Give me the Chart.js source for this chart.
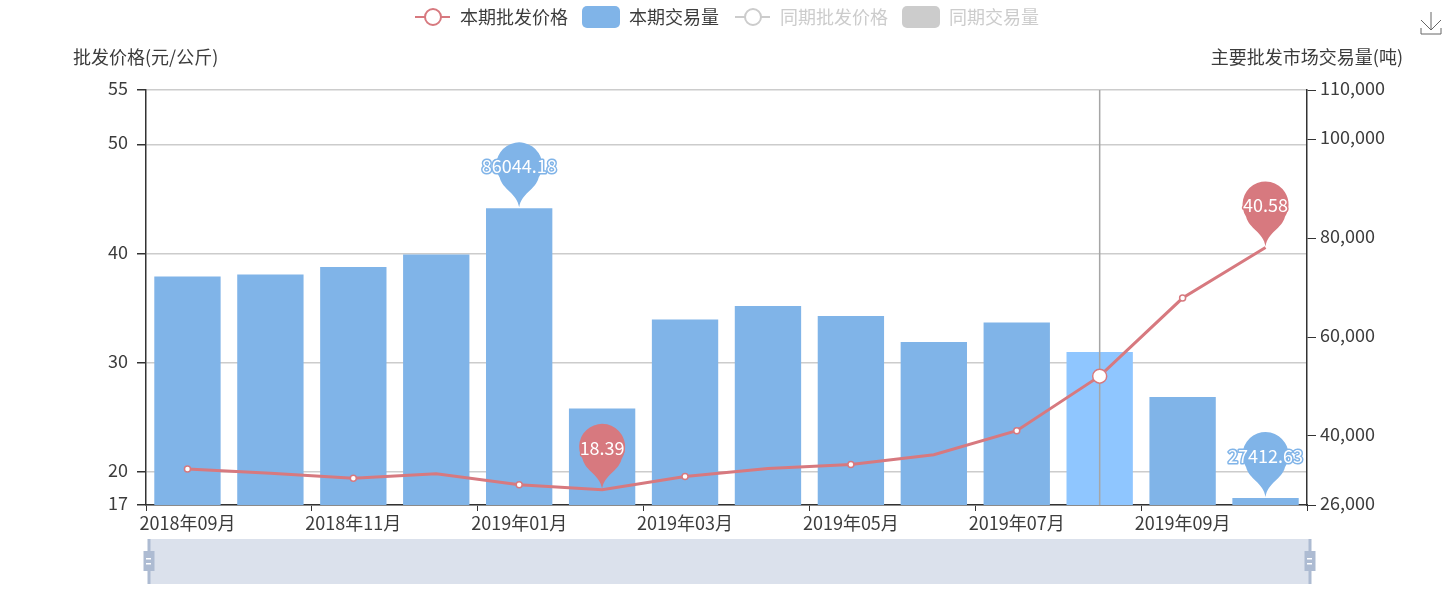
<!DOCTYPE html>
<html>
<head>
<meta charset="utf-8">
<style>
	html, body { margin: 0; padding: 0; background: #fff; }
	#box { width: 1452px; height: 594px; }
</style>
<script src="https://cdn.jsdelivr.net/npm/chart.js@4/dist/chart.umd.min.js"></script>
</head>
<body>
<div id="box"><canvas id="priceChart" width="1452" height="594"></canvas></div>
<script>
const months = ['2018年09月', '2018年10月', '2018年11月', '2018年12月', '2019年01月', '2019年02月', '2019年03月',
	'2019年04月', '2019年05月', '2019年06月', '2019年07月', '2019年08月', '2019年09月', '2019年10月'];
const priceValues = [20.3, 19.9, 19.45, 19.85, 18.85, 18.39, 19.6, 20.35, 20.7, 21.6, 23.8, 28.8, 35.95, 40.58];
const volumeValues = [72250, 72660, 74180, 76700, 86044.18, 45530, 63550, 66280, 64260, 59000, 62940, 56970, 47860, 27412.63];
const priceTicks = [17, 20, 30, 40, 50, 55];
const volumeTicks = [26000, 40000, 60000, 80000, 100000, 110000];
const seriesNames = ['本期批发价格', '本期交易量', '同期批发价格', '同期交易量'];
const leftTitle = '批发价格(元/公斤)';
const rightTitle = '主要批发市场交易量(吨)';
const activeIndex = 11; // the hovered month in the picture

const RED = '#d7797f';
const BLUE = '#80b4e8';
const BLUE_ACTIVE = '#8fc6ff';
const GREY = '#ccc';
const TEXT = '#3c3c3c';
const SLIDER = '#adbbd2';
const FONT = '"Noto Sans CJK SC", "Noto Sans", sans-serif';

Chart.defaults.font.family = FONT;
Chart.defaults.font.size = 18;
Chart.defaults.color = TEXT;

// legend symbols
function lineIcon(color) {
	const c = document.createElement('canvas');
	c.width = 38; c.height = 22;
	const g = c.getContext('2d');
	g.strokeStyle = color;
	g.lineWidth = 2;
	g.beginPath(); g.moveTo(2, 11); g.lineTo(37, 11); g.stroke();
	g.fillStyle = '#fff';
	g.beginPath(); g.arc(20, 11, 8, 0, Math.PI * 2); g.fill(); g.stroke();
	return c;
}
function boxIcon(color) {
	const c = document.createElement('canvas');
	c.width = 38; c.height = 22;
	const g = c.getContext('2d');
	g.fillStyle = color;
	g.beginPath(); g.roundRect(0, 0, 38, 22, 5); g.fill();
	return c;
}

function drawPin(ctx, x, pointY, color, text) {
	const r = 23, tipY = pointY - 1, cy = tipY - 42;
	ctx.save();
	ctx.fillStyle = color;
	ctx.beginPath();
	ctx.arc(x, cy, r, Math.PI * 0.82, Math.PI * 0.18);
	ctx.bezierCurveTo(x + r * 0.72, cy + r * 1.05, x + 2, tipY - 14, x, tipY);
	ctx.bezierCurveTo(x - 2, tipY - 14, x - r * 0.72, cy + r * 1.05, x - r * Math.cos(Math.PI * 0.18), cy + r * Math.sin(Math.PI * 0.18));
	ctx.closePath();
	ctx.fill();
	ctx.font = '18px ' + FONT;
	ctx.textAlign = 'center';
	ctx.textBaseline = 'middle';
	ctx.lineJoin = 'round';
	ctx.lineWidth = 3;
	ctx.strokeStyle = color;
	ctx.strokeText(text, x, cy + 1);
	ctx.fillStyle = '#fff';
	ctx.fillText(text, x, cy + 1);
	ctx.restore();
}

const extras = {
	id: 'extras',
	beforeLayout(chart) {
		// reserve the band above the plot (legend plus axis names)
		const legend = chart.legend, fit = legend.fit;
		legend.fit = function () { fit.call(this); this.height = 96; };
	},
	beforeDraw(chart) {
		// value labels sit a little above their ticks in the picture
		[chart.scales.price, chart.scales.volume].forEach(scale => {
			scale.getLabelItems().forEach(item => { item.options.translation[1] -= 2; });
		});
	},
	beforeDatasetDraw(chart, args) {
		// crosshair sits over the bars and under the line
		if (args.index !== 0) return;
		const ctx = chart.ctx, x = chart.scales.x.getPixelForValue(activeIndex);
		ctx.save();
		ctx.strokeStyle = '#a6a6a6';
		ctx.lineWidth = 1.5;
		ctx.beginPath();
		ctx.moveTo(x, chart.chartArea.top);
		ctx.lineTo(x, chart.chartArea.bottom);
		ctx.stroke();
		ctx.restore();
	},
	afterDraw(chart) {
		const ctx = chart.ctx, area = chart.chartArea;
		const { x, price, volume } = chart.scales;

		// max and min pins of both series
		[volumeValues.indexOf(Math.max(...volumeValues)), volumeValues.indexOf(Math.min(...volumeValues))].forEach(i => {
			drawPin(ctx, x.getPixelForValue(i), volume.getPixelForValue(volumeValues[i]), BLUE, String(volumeValues[i]));
		});
		[priceValues.indexOf(Math.max(...priceValues)), priceValues.indexOf(Math.min(...priceValues))].forEach(i => {
			drawPin(ctx, x.getPixelForValue(i), price.getPixelForValue(priceValues[i]), RED, String(priceValues[i]));
		});

		// axis names
		ctx.save();
		ctx.font = '18px ' + FONT;
		ctx.fillStyle = TEXT;
		ctx.textBaseline = 'middle';
		ctx.textAlign = 'left';
		ctx.fillText(leftTitle, 73, 57);
		ctx.textAlign = 'right';
		ctx.fillText(rightTitle, 1403, 57);
		ctx.restore();

		// zoom slider
		ctx.save();
		const sx = area.left + 3, ex = area.right + 3;
		ctx.fillStyle = '#dbe1ec';
		ctx.fillRect(sx, 539, ex - sx, 45);
		[sx, ex].forEach(h => {
			ctx.fillStyle = SLIDER;
			ctx.fillRect(h - 1.5, 539, 3, 45);
			ctx.fillRect(h - 5.5, 551, 11, 20);
			ctx.fillStyle = '#fff';
			ctx.fillRect(h - 3, 558, 5, 1.5);
			ctx.fillRect(h - 3, 563, 5, 1.5);
		});
		ctx.restore();

		// download icon
		ctx.save();
		ctx.strokeStyle = '#666';
		ctx.lineWidth = 1;
		ctx.beginPath();
		ctx.moveTo(1431, 12); ctx.lineTo(1431, 30);
		ctx.moveTo(1421, 20); ctx.lineTo(1431, 30); ctx.lineTo(1441, 20);
		ctx.moveTo(1421, 28); ctx.lineTo(1421, 34); ctx.lineTo(1441, 34); ctx.lineTo(1441, 28);
		ctx.stroke();
		ctx.restore();
	}
};

new Chart(document.getElementById('priceChart'), {
	data: {
		labels: months,
		datasets: [
			{
				type: 'line',
				label: seriesNames[0],
				data: priceValues,
				yAxisID: 'price',
				order: 0,
				borderColor: RED,
				borderWidth: 3,
				tension: 0,
				pointBackgroundColor: '#fff',
				pointBorderColor: RED,
				pointBorderWidth: 1.5,
				pointRadius: ctx => ctx.dataIndex === activeIndex ? 7 : (ctx.dataIndex % 2 === 0 ? 3 : 0)
			},
			{
				type: 'bar',
				label: seriesNames[1],
				data: volumeValues,
				yAxisID: 'volume',
				order: 1,
				backgroundColor: ctx => ctx.dataIndex === activeIndex ? BLUE_ACTIVE : BLUE,
				barPercentage: 0.8,
				categoryPercentage: 1
			},
			// last year's series are switched off in the picture
			{ type: 'line', label: seriesNames[2], data: [], yAxisID: 'price', hidden: true },
			{ type: 'bar', label: seriesNames[3], data: [], yAxisID: 'volume', hidden: true }
		]
	},
	options: {
		responsive: false,
		animation: false,
		layout: { padding: { top: -6 } },
		scales: {
			x: {
				offset: true,
				grid: {
					offset: true,
					drawOnChartArea: false,
					tickLength: 6,
					tickColor: ctx => (ctx.index === undefined || ctx.index % 2 === 0) ? '#333' : 'transparent'
				},
				border: { color: '#333', width: 1.5 },
				ticks: {
					autoSkip: false,
					maxRotation: 0,
					padding: 1,
					color: TEXT,
					callback(value, index) { return index % 2 === 0 ? months[index] : ''; }
				},
				afterFit(scale) { scale.height = 89; }
			},
			price: {
				position: 'left',
				min: 17,
				max: 55,
				afterBuildTicks(scale) { scale.ticks = priceTicks.map(v => ({ value: v })); },
				grid: { color: GREY, lineWidth: 1.5, tickColor: '#333', tickLength: 9 },
				border: { color: '#333', width: 1.5 },
				ticks: { padding: 9, color: TEXT },
				afterFit(scale) { scale.width = 146; }
			},
			volume: {
				position: 'right',
				min: 26000,
				max: 110000,
				afterBuildTicks(scale) { scale.ticks = volumeTicks.map(v => ({ value: v })); },
				grid: { drawOnChartArea: false, tickColor: '#333', tickLength: 9 },
				border: { color: '#333', width: 1.5 },
				ticks: { padding: 4, color: TEXT, callback: v => v.toLocaleString('en-US') },
				afterFit(scale) { scale.width = 145; }
			}
		},
		plugins: {
			tooltip: { enabled: false },
			legend: {
				position: 'top',
				labels: {
					usePointStyle: true,
					pointStyleWidth: 38,
					padding: 14,
					generateLabels() {
						return seriesNames.map((name, i) => ({
							text: name,
							fontColor: i < 2 ? TEXT : GREY,
							pointStyle: i % 2 === 0 ? lineIcon(i < 2 ? RED : GREY) : boxIcon(i < 2 ? BLUE : GREY),
							datasetIndex: i,
							lineWidth: 0
						}));
					}
				}
			}
		}
	},
	plugins: [extras]
});
</script>
</body>
</html>
